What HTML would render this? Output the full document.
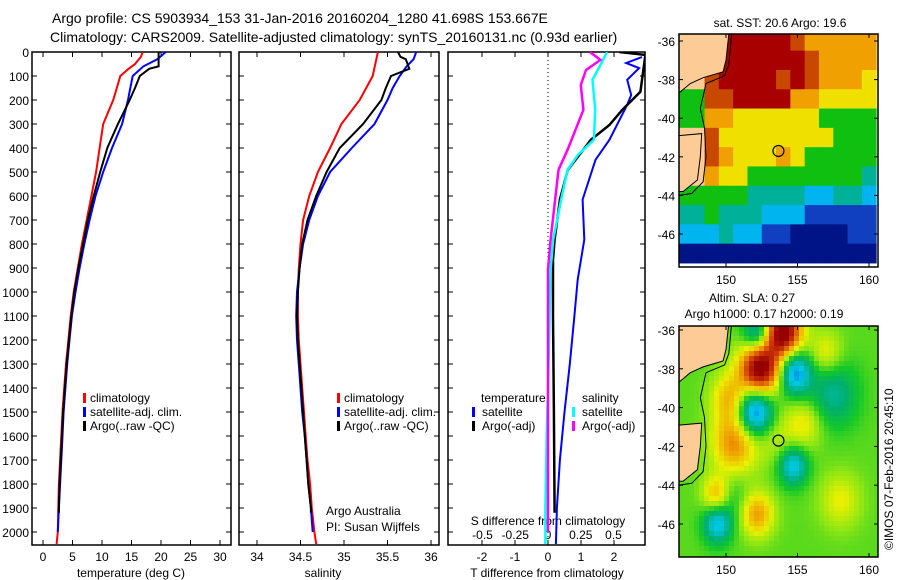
<!DOCTYPE html>
<html><head><meta charset="utf-8">
<style>
html,body{margin:0;padding:0;background:#fff;}
svg{display:block;font-family:"Liberation Sans",sans-serif;}
text{fill:#000;}
</style></head>
<body>
<svg id="fig" width="900" height="580" viewBox="0 0 900 580" xmlns="http://www.w3.org/2000/svg">
<text x="52" y="23" font-size="14">Argo profile: CS 5903934_153 31-Jan-2016 20160204_1280 41.698S 153.667E</text>
<text x="50" y="42" font-size="14">Climatology: CARS2009. Satellite-adjusted climatology: synTS_20160131.nc (0.93d earlier)</text>
<g id="p1"></g>
<g id="p2"></g>
<g id="p3"></g>
<g id="m1"></g>
<g id="m2"></g>
<text transform="translate(893,550) rotate(-90)" font-size="12">©IMOS 07-Feb-2016 20:45:10</text>
</svg>
<script>
// ---------- profile data ----------
const tempClimDepth = [0,20,50,70,100,150,200,300,400,500,600,700,800,900,1000,1100,1200,1300,1400,1500,1600,1700,1800,1900,2000,2050];
const tempClim      = [16.9,16.6,15.6,14.5,13.1,12.5,11.9,10.2,9.6,9.0,8.2,7.4,6.6,5.9,5.2,4.7,4.3,3.9,3.6,3.3,3.1,2.9,2.7,2.6,2.5,2.3];
const tempSatDepth  = [0,30,60,100,150,200,300,400,500,600,700,800,900,1000,1100,1200,1300,1400,1500,1600,1700,1800,1900,2000];
const tempSat       = [20.8,19.4,17.0,15.2,14.8,14.4,13.4,11.7,10.2,8.9,7.9,7.0,6.2,5.5,4.9,4.5,4.1,3.8,3.5,3.3,3.1,2.9,2.7,2.5];
const tempArgoDepth = [0,60,70,100,150,200,300,400,500,600,700,800,900,1000,1100,1200,1300,1400,1500,1600,1700,1800,1900,1920];
const tempArgo      = [19.6,19.6,18.0,16.4,15.6,14.7,12.7,10.9,9.7,8.6,7.6,6.8,6.0,5.3,4.8,4.4,4.0,3.7,3.4,3.2,3.0,2.8,2.7,2.7];
const salDepth      = [0,100,200,300,400,500,600,700,800,900,1000,1100,1200,1300,1400,1500,1600,1700,1800,1900,2000,2050];
const salClim       = [35.39,35.33,35.18,34.97,34.84,34.70,34.60,34.53,34.50,34.48,34.47,34.47,34.48,34.50,34.52,34.54,34.56,34.58,34.61,34.63,34.66,34.68];
const salSatDepth   = [0,30,60,100,150,200,300,400,500,600,700,800,900,1000,1100,1200,1300,1400,1500,1600,1700,1800,1900,2000];
const salSat        = [35.83,35.80,35.72,35.64,35.56,35.50,35.35,35.09,34.84,34.70,34.60,34.53,34.49,34.46,34.45,34.46,34.48,34.50,34.52,34.55,34.57,34.59,34.62,34.64];
const salArgoDepth  = [0,20,30,70,100,150,200,300,400,500,600,700,800,900,1000,1100,1200,1300,1400,1500,1600,1700,1800,1900,1920];
const salArgo       = [35.62,35.65,35.71,35.75,35.54,35.48,35.43,35.22,34.95,34.80,34.68,34.58,34.52,34.49,34.47,34.46,34.47,34.49,34.51,34.53,34.55,34.57,34.59,34.62,34.62];
// difference data
const dTSatDepth  = [21,46,67,116,179,220,366,449,615,782,948,1100,1300,1500,1700,1900,2050];
const dTSat       = [2.85,2.37,2.76,2.4,2.52,2.4,1.86,1.44,1.05,1.1,0.9,0.8,0.66,0.5,0.36,0.27,0.24];
const dTArgoDepth = [0,12,166,241,304,366,491,615,782,865,1100,1500,1920];
const dTArgo      = [2.16,2.95,2.8,2.25,1.86,1.3,0.6,0.36,0.2,0.15,0.15,0.18,0.2];
const dSSatDepth  = [0,54,116,241,366,428,491,615,782,906,1400,1600,1900,2050];
const dSSat       = [0.45,0.40,0.34,0.36,0.35,0.23,0.15,0.10,0.04,0.02,0.0,-0.01,-0.02,-0.02];
const dSArgoDepth = [0,33,75,137,241,324,407,491,782,906,1500,2000];
const dSArgo      = [0.32,0.40,0.29,0.25,0.27,0.21,0.15,0.08,0.02,0.0,0.0,0.0];
const depthTicks = [0,100,200,300,400,500,600,700,800,900,1000,1100,1200,1300,1400,1500,1600,1700,1800,1900,2000];
const tempTicks = [0,5,10,15,20,25,30];
const salTicks = [34,34.5,35,35.5,36];
const salTickLabels = ["34","34.5","35","35.5","36"];
const dTTicks = [-2,-1,0,1,2];
const dSTicks = [-0.5,-0.25,0,0.25,0.5];
const dSTickLabels = ["-0.5","-0.25","0","0.25","0.5"];

const NS="http://www.w3.org/2000/svg";
function mk(parent,tag,attrs){const e=document.createElementNS(NS,tag);for(const k in attrs)e.setAttribute(k,attrs[k]);parent.appendChild(e);return e;}
const Y0=52, Y1=545;
const yD = d => Y0 + d*(532-52)/2000;

function frame(g,x0,x1){
  const r=mk(g,'rect',{x:x0,y:Y0,width:x1-x0,height:Y1-Y0,fill:'none',stroke:'#000','stroke-width':1.5});
  
  
  depthTicks.forEach(d=>{
    const t=mk(g,'line',{x1:x0,x2:x0+5,y1:yD(d),y2:yD(d),stroke:'#000'});
    
    
    const t2=mk(g,'line',{x1:x1-5,x2:x1,y1:yD(d),y2:yD(d),stroke:'#000'});
    
    
  });
}
function line(g,xs,ds,fx,color,name,w){
  let p='';
  for(let i=0;i<xs.length;i++){const x=fx(xs[i]);const y=yD(ds[i]);p+=(i?'L':'M')+x.toFixed(1)+' '+y.toFixed(1);}
  const e=mk(g,'path',{d:p,fill:'none',stroke:color,'stroke-width':w||2,'clip-path':'url(#clip3)'});
  
  
}
function txt(g,x,y,s,size,anchor,name){
  const e=mk(g,'text',{x:x,y:y,'font-size':size||12,'text-anchor':anchor||'start'});e.textContent=s;
  
  
  return e;
}
function legendBar(g,x,y,color){
  const e=mk(g,'rect',{x:x,y:y-10,width:3,height:10,fill:color});
  
  
}
const svg=document.getElementById('fig');
const defs=mk(svg,'defs',{});
const cp=mk(defs,'clipPath',{id:'clip3'});mk(cp,'rect',{x:0,y:Y0,width:900,height:Y1-Y0});
const cpb=mk(defs,'clipPath',{id:'clipP3'});mk(cpb,'rect',{x:448,y:Y0,width:197,height:Y1-Y0});

// ---- panel 1 temperature ----
const p1=document.getElementById('p1');
const xT=t=>43+t*(220-43)/30;
frame(p1,32,231);
depthTicks.forEach(d=>txt(p1,29,yD(d)+5,String(d),12,'end','depth-tick-label'));
tempTicks.forEach(t=>{mk(p1,'line',{x1:xT(t),x2:xT(t),y1:Y1-5,y2:Y1,stroke:'#000'});mk(p1,'line',{x1:xT(t),x2:xT(t),y1:Y0,y2:Y0+5,stroke:'#000'});txt(p1,xT(t),561,String(t),12,'middle','temperature-tick-label');});
txt(p1,131,577,'temperature (deg C)',12,'middle','temperature-axis-title');
line(p1,tempClim,tempClimDepth,xT,'#f00','temp-climatology-line');
line(p1,tempSat,tempSatDepth,xT,'#00f','temp-satellite-line');
line(p1,tempArgo,tempArgoDepth,xT,'#000','temp-argo-line');
legendBar(p1,83,403,'#f00');txt(p1,90,402,'climatology',12,'start','legend-climatology');
legendBar(p1,83,417,'#00f');txt(p1,90,416,'satellite-adj. clim.',12,'start','legend-satellite');
legendBar(p1,83,431,'#000');txt(p1,90,430,'Argo(..raw -QC)',12,'start','legend-argo');

// ---- panel 2 salinity ----
const p2=document.getElementById('p2');
const xS=s=>257+(s-34)*(431-257)/2;
frame(p2,239,439);
salTicks.forEach((s,i)=>{mk(p2,'line',{x1:xS(s),x2:xS(s),y1:Y1-5,y2:Y1,stroke:'#000'});mk(p2,'line',{x1:xS(s),x2:xS(s),y1:Y0,y2:Y0+5,stroke:'#000'});txt(p2,xS(s),561,salTickLabels[i],12,'middle','salinity-tick-label');});
txt(p2,323,577,'salinity',12,'middle','salinity-axis-title');
line(p2,salClim,salDepth,xS,'#f00','sal-climatology-line');
line(p2,salSat,salSatDepth,xS,'#00f','sal-satellite-line');
line(p2,salArgo,salArgoDepth,xS,'#000','sal-argo-line');
legendBar(p2,337,403,'#f00');txt(p2,344,402,'climatology',12,'start','legend-climatology');
legendBar(p2,337,417,'#00f');txt(p2,344,416,'satellite-adj. clim.',12,'start','legend-satellite');
legendBar(p2,337,431,'#000');txt(p2,344,430,'Argo(..raw -QC)',12,'start','legend-argo');
txt(p2,326,515,'Argo Australia',12,'start','credit-argo-australia');
txt(p2,326,531,'PI: Susan Wijffels',12,'start','credit-pi');

// ---- panel 3 differences ----
const p3=document.getElementById('p3');
const xDT=t=>548+t*(614-548)/2;
const xDS=s=>548+s*(613-482);
frame(p3,448,645);
dTTicks.forEach(t=>{mk(p3,'line',{x1:xDT(t),x2:xDT(t),y1:Y1-5,y2:Y1,stroke:'#000'});mk(p3,'line',{x1:xDT(t),x2:xDT(t),y1:Y0,y2:Y0+5,stroke:'#000'});txt(p3,xDT(t),561,String(t),12,'middle','dT-tick-label');});
dSTicks.forEach((s,i)=>txt(p3,xDS(s),539,dSTickLabels[i],12,'middle','dS-tick-label'));
txt(p3,548,525,'S difference from climatology',12,'middle','dS-axis-title');
txt(p3,547,577,'T difference from climatology',12,'middle','dT-axis-title');
const zl=mk(p3,'line',{x1:548,x2:548,y1:Y0,y2:Y1,stroke:'#000','stroke-dasharray':'1 3'});


const g3=mk(p3,'g',{'clip-path':'url(#clipP3)'});
line(g3,dTSat,dTSatDepth,xDT,'#00f','dT-satellite-line');
line(g3,dTArgo,dTArgoDepth,xDT,'#000','dT-argo-line',2.5);
line(g3,dSSat,dSSatDepth,xDS,'#0ff','dS-satellite-line',2.5);
line(g3,dSArgo,dSArgoDepth,xDS,'#f0f','dS-argo-line',2.5);
txt(p3,481,402,'temperature',12,'start','legend-temperature-heading');
legendBar(p3,472,417,'#00f');txt(p3,482,416,'satellite',12,'start','legend-t-satellite');
legendBar(p3,472,431,'#000');txt(p3,482,430,'Argo(-adj)',12,'start','legend-t-argo');
txt(p3,582,402,'salinity',12,'start','legend-salinity-heading');
legendBar(p3,572,417,'#0ff');txt(p3,582,416,'satellite',12,'start','legend-s-satellite');
legendBar(p3,572,431,'#f0f');txt(p3,582,430,'Argo(-adj)',12,'start','legend-s-argo');

// ---------- maps ----------
const MX0=679, MX1=878;
const lonX=l=>726+(l-150)*(869-726)/10;
const mapLats=[-36,-38,-40,-42,-44,-46];
const mapLons=[150,155,160];
// SST grid rows lat -36..-47 , cols lon 147..160
const sstRows=[
"LLLRRRRRrOOOOO",
"LLLRRRRRRrOOOO",
"LLrRRRRrRrOOOY",
"GGrrRRRROOYYYY",
"GGOOYYYYYYGGGG",
"LLrYYYYYYYYGGG",
"LLrOYYYOYGGGGG",
"LLOYYGGGGGGGGT",
"GGGGGTTTTCCTTC",
"TTGTTTCCCBBBBB",
"CCCTCCBBNNNNBB",
"NNNNNNNNNNNNNN"];
const sstColors={R:'#a80000',r:'#c84800',O:'#f0a000',Y:'#f0e000',G:'#10c010',T:'#00b098',C:'#00b4f0',B:'#1040c0',N:'#001488',L:'#fccb96'};
// SLA blobs: lon, lat, amplitude (m), radius (deg)
const slaLon=[152.4,154.0,154.8,152.0,150.6,150.3,154.7,149.4,149.4,152.2,152.2,157.5,155.5,158.0,157.0,150.2,153.5];
const slaLat=[-38.0,-36.1,-38.2,-40.2,-41.8,-39.5,-43.0,-46.0,-44.5,-45.5,-36.2,-39.3,-40.8,-44.8,-37.2,-44.6,-41.5];
const slaAmp=[0.8,0.8,-0.5,-0.6,0.4,0.3,-0.4,-0.4,0.35,0.35,-0.4,-0.25,0.2,0.18,0.2,-0.15,0.12];
const slaRad=[1.0,0.9,0.8,0.9,1.1,0.9,0.7,0.7,0.7,0.8,0.7,1.2,0.9,1.0,0.8,0.8,1.0];

function landPaths(g,latY){
  const poly1=[[146.7,-35.6],[150.2,-35.6],[150.0,-37.0],[149.8,-37.6],[148.4,-37.9],[147.5,-38.2],[146.7,-38.7]];
  const poly2=[[146.7,-40.9],[148.3,-40.8],[148.2,-42.0],[148.0,-43.2],[147.0,-43.8],[146.7,-43.8]];
  [poly1,poly2].forEach(pg=>{
    const d='M'+pg.map(p=>lonX(p[0]).toFixed(1)+' '+latY(p[1]).toFixed(1)).join('L')+'Z';
    const e=mk(g,'path',{d:d,fill:'#fccb96',stroke:'#000','stroke-width':1});
    
    
  });
  const shelf=[[150.4,-35.6],[150.2,-37.2],[149.9,-37.8],[148.6,-38.2],[148.2,-39.5],[148.5,-40.5],[148.6,-42],[148.4,-43.3],[147.6,-43.9],[146.7,-44]];
  const e=mk(g,'path',{d:'M'+shelf.map(p=>lonX(p[0]).toFixed(1)+' '+latY(p[1]).toFixed(1)).join('L'),fill:'none',stroke:'#000','stroke-width':1});
  
  
}
function mapAxes(g,top,bot,latY,prefix){
  const r=mk(g,'rect',{x:MX0,y:top,width:MX1-MX0,height:bot-top,fill:'none',stroke:'#000','stroke-width':1.5});
  
  
  mapLats.forEach(l=>{mk(g,'line',{x1:MX0,x2:MX0+4,y1:latY(l),y2:latY(l),stroke:'#000'});mk(g,'line',{x1:MX1-4,x2:MX1,y1:latY(l),y2:latY(l),stroke:'#000'});txt(g,675,latY(l)+5,String(l),12,'end',prefix+'-lat-label');});
  mapLons.forEach(l=>{mk(g,'line',{x1:lonX(l),x2:lonX(l),y1:bot-4,y2:bot,stroke:'#000'});mk(g,'line',{x1:lonX(l),x2:lonX(l),y1:top,y2:top+4,stroke:'#000'});txt(g,lonX(l),bot+17,String(l),12,'middle',prefix+'-lon-label');});
  const c=mk(g,'circle',{cx:lonX(153.667),cy:latY(-41.698),r:5.5,fill:'none',stroke:'#000','stroke-width':1.2});
  
  
}
// SST map
const m1=document.getElementById('m1');
const T1=34,B1=267;
const latY1=l=>41+(-36-l)*(234-41)/10;
const cc1=mk(defs,'clipPath',{id:'cm1'});mk(cc1,'rect',{x:MX0,y:T1,width:MX1-MX0,height:B1-T1});
const g1=mk(m1,'g',{'clip-path':'url(#cm1)'});
sstRows.forEach((row,ri)=>{
  for(let ci=0;ci<row.length;ci++){
    const lon=147+ci, lat=-36-ri;
    const x0=lonX(lon-0.5), x1=lonX(lon+0.5), y0=latY1(lat+0.5), y1=latY1(lat-0.5);
    const e=mk(g1,'rect',{x:x0,y:y0,width:x1-x0+0.5,height:y1-y0+0.5,fill:sstColors[row[ci]]});
    
    
  }
});
landPaths(g1,latY1);
mapAxes(m1,T1,B1,latY1,'sst');
txt(m1,780,27,'sat. SST: 20.6 Argo: 19.6',12,'middle','sst-map-title');

// SLA map
const m2=document.getElementById('m2');
const T2=326,B2=557;
const latY2=l=>330+(-36-l)*(524-330)/10;
const cc2=mk(defs,'clipPath',{id:'cm2'});mk(cc2,'rect',{x:MX0,y:T2,width:MX1-MX0,height:B2-T2});
const g2=mk(m2,'g',{'clip-path':'url(#cm2)'});
function slaColor(v){
  const stops=[[-0.5,[0,90,230]],[-0.3,[0,200,230]],[-0.12,[0,175,110]],[0.0,[20,200,40]],[0.12,[140,230,20]],[0.25,[235,240,0]],[0.42,[240,160,0]],[0.6,[210,60,0]],[0.8,[150,0,0]]];
  if(v<=stops[0][0])return 'rgb('+stops[0][1]+')';
  for(let i=1;i<stops.length;i++){if(v<=stops[i][0]){const a=stops[i-1],b=stops[i],f=(v-a[0])/(b[0]-a[0]);return 'rgb('+a[1].map((c,k)=>Math.round(c+(b[1][k]-c)*f)).join(',')+')';}}
  return 'rgb('+stops[stops.length-1][1]+')';
}
const step=5;
for(let y=T2;y<B2;y+=step){for(let x=MX0;x<MX1;x+=step){
  const lon=150+(x+step/2-726)*10/(869-726), lat=-36-(y+step/2-330)*10/(524-330);
  let v=0.07;
  for(let i=0;i<slaLon.length;i++){const dx=(lon-slaLon[i]),dy=(lat-slaLat[i]);v+=slaAmp[i]*Math.exp(-(dx*dx+dy*dy)/(2*slaRad[i]*slaRad[i]));}
  const e=mk(g2,'rect',{x:x,y:y,width:step+0.3,height:step+0.3,fill:slaColor(v)});
  
  
}}
landPaths(g2,latY2);
mapAxes(m2,T2,B2,latY2,'sla');
txt(m2,752,302,'Altim. SLA: 0.27',12,'middle','sla-map-title');
txt(m2,764,318,'Argo h1000: 0.17 h2000: 0.19',12,'middle','sla-map-subtitle');
</script>
</body></html>
